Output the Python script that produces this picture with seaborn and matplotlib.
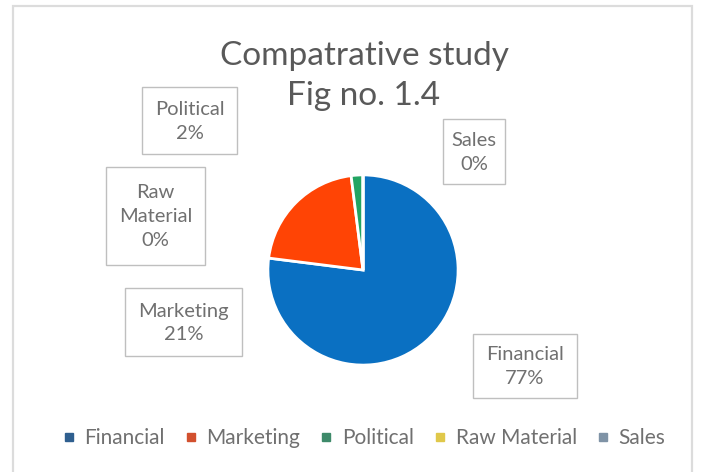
import matplotlib
matplotlib.use("Agg")
import matplotlib.pyplot as plt
from matplotlib.lines import Line2D
from matplotlib.patches import Rectangle
import seaborn as sns

# Survey categories and their shares (%)
categories = ["Financial", "Marketing", "Political", "Raw Material", "Sales"]
shares = [77, 21, 2, 0, 0]

sns.set_theme(style="white")
plt.rcParams["font.family"] = ["Lato", "DejaVu Sans"]

colors = ["#0A70C2", "#FF4405", "#22A462", "#F5C518", "#5B8BB5"]
legend_colors = ["#2F5F8F", "#D2502E", "#3E8A6A", "#E0C84A", "#7F93A6"]
text_gray = "#707070"

fig = plt.figure(figsize=(7.13, 4.72), dpi=100)
W, H = 713, 472


def fx(px):
    return px / W


def fy(py):
    return 1 - py / H


# outer chart frame (bottom edge runs off the canvas)
fig.patches.append(Rectangle((fx(13), fy(490)), (692 - 13) / W, (490 - 6) / H,
                             transform=fig.transFigure, fill=False,
                             edgecolor="#DCDCDC", linewidth=1.6))

# pie axes: centre ~(363, 270) px, radius ~97 px
cx, cy, r = 363, 270, 97
ax = fig.add_axes([fx(cx - r), fy(cy + r), 2 * r / W, 2 * r / H])
ax.pie(shares, colors=colors, startangle=90, counterclock=False,
       wedgeprops=dict(edgecolor="white", linewidth=2.0))
ax.set_xlim(-1.02, 1.02)
ax.set_ylim(-1.02, 1.02)
ax.set_aspect("equal")
ax.axis("off")

fig.text(fx(364), fy(76), "Compatrative study\nFig no. 1.4", ha="center", va="center",
         fontsize=24, color="#595959", linespacing=1.42)

# callout label boxes: (left, top, right, bottom) in pixels
label_box = {
    "Financial": (473, 334, 577, 398),
    "Marketing": (125, 288, 242, 356),
    "Political": (142, 87, 237, 154),
    "Raw Material": (106, 167, 205, 265),
    "Sales": (443, 119, 505, 184),
}
for name, val in zip(categories, shares):
    x0, y0, x1, y1 = label_box[name]
    fig.patches.append(Rectangle((fx(x0), fy(y1)), (x1 - x0) / W, (y1 - y0) / H,
                                 transform=fig.transFigure, facecolor="white",
                                 edgecolor="#BFBFBF", linewidth=1.0))
    txt = name.replace(" ", "\n") + f"\n{val}%"
    fig.text(fx((x0 + x1) / 2), fy((y0 + y1) / 2 + 1), txt, ha="center", va="center",
             fontsize=14.5, color=text_gray, linespacing=1.5)

handles = [Line2D([0], [0], marker="s", linestyle="none", markersize=6,
                  markerfacecolor=c, markeredgecolor=c) for c in legend_colors]
fig.legend(handles, categories, loc="center", bbox_to_anchor=(fx(364), fy(438)),
           ncol=5, frameon=False, fontsize=15, handlelength=0.6, handletextpad=0.45,
           columnspacing=0.95, labelcolor=text_gray)

fig.savefig("out.png", dpi=100, facecolor="white")
